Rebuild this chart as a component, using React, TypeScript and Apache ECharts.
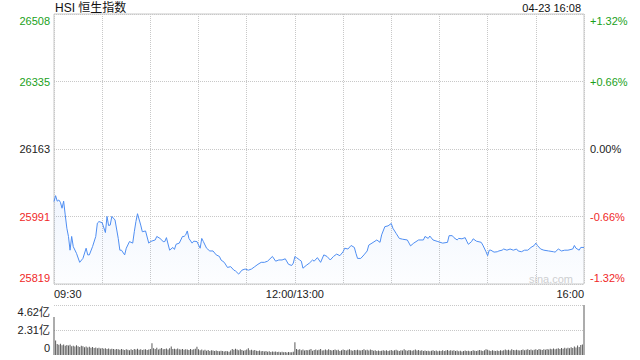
import React, { useEffect, useRef } from 'react';
import * as echarts from 'echarts';

// ---- data ----
const chartTitle = 'HSI 恒生指数';
const stampText = '04-23 16:08';
const watermark = 'sina.com';

// minutes of trading since 09:30 (lunch break removed) and index level
const minutes = [
  0, 1, 2, 3, 4, 5, 6, 7, 8, 9, 10, 11, 12, 14, 16, 18, 20, 21, 22, 24, 26, 27, 28, 30, 32, 33, 34, 35, 36, 38,
  40, 41, 42, 44, 45, 47, 49, 50, 51, 52, 54, 55, 57, 59, 60, 63, 64, 66, 68, 69, 70, 72, 74, 75, 76, 78, 80, 81,
  82, 83, 84, 86, 87, 89, 91, 92, 93, 95, 97, 99, 101, 103, 104, 106, 108, 110, 112, 113, 115, 117, 119, 121, 123,
  125, 127, 129, 131, 133, 136, 138, 140, 142, 144, 146, 148, 149, 150, 151, 153, 154, 155, 157, 159, 161, 162,
  164, 166, 168, 170, 172, 174, 176, 178, 180, 181, 183, 185, 187, 188, 189, 191, 193, 195, 196, 198, 201, 203,
  204, 206, 208, 210, 211, 213, 215, 217, 220, 222, 224, 227, 230, 231, 233, 234, 236, 239, 242,
  245, 246, 248, 249, 251, 252, 254, 256, 257, 258, 260, 261, 263, 266, 267, 269, 270, 271, 272, 274, 276, 277,
  279, 280, 282, 284, 286, 288, 289, 291, 293, 295, 297, 299, 300, 301, 303, 305, 308, 311, 312, 314, 316, 318,
  320, 323, 324, 325, 327, 328, 330,
];
const prices = [
  26029, 26044, 26030, 26033, 26027, 26012, 26030, 25995, 25961, 25940, 25905, 25940, 25914, 25897, 25874, 25884,
  25910, 25893, 25893, 25914, 25940, 25974, 25978, 25975, 25950, 25991, 25968, 25969, 25991, 25982,
  25935, 25905, 25905, 25893, 25910, 25927, 25923, 25952, 25978, 25998, 25969, 25952, 25954, 25923, 25927, 25931,
  25940, 25935, 25927, 25927, 25937, 25905, 25912, 25907, 25920, 25923, 25940, 25940,
  25944, 25954, 25935, 25923, 25928, 25927, 25910, 25935, 25927, 25910, 25903, 25903, 25893, 25889, 25880, 25874,
  25861, 25863, 25854, 25852, 25844, 25854, 25857, 25854, 25857, 25863, 25869, 25874, 25874, 25877, 25889, 25877,
  25880, 25880, 25883, 25869, 25866, 25872, 25889, 25886, 25880, 25877, 25859, 25866, 25872, 25880, 25877,
  25886, 25874, 25893, 25889, 25880, 25889, 25895, 25891, 25901, 25910, 25908, 25917, 25912, 25897, 25884, 25884,
  25893, 25903, 25918, 25923, 25931, 25925, 25944, 25965, 25967, 25973, 25961, 25948, 25935, 25933, 25931, 25916,
  25923, 25931, 25931, 25940, 25935, 25941, 25931, 25927, 25923,
  25925, 25942, 25942, 25937, 25931, 25935, 25934, 25937, 25928, 25920, 25927, 25934, 25928, 25925, 25918, 25901,
  25891, 25905, 25905, 25900, 25901, 25903, 25905, 25908, 25905, 25908, 25905, 25908, 25903, 25901, 25905, 25905,
  25912, 25917, 25923, 25917, 25908, 25905, 25903, 25901, 25900, 25908, 25903, 25905, 25905, 25908, 25917, 25910,
  25905, 25912, 25912,
];

// volume per minute, in 亿
const volumes = [
  3.5, 1.35, 1.02, 0.95, 1.05, 0.9, 0.98, 0.85, 0.92, 0.88,
  0.95, 0.8, 0.86, 0.78, 0.9, 0.82, 0.75, 0.85, 0.8, 0.72,
  0.78, 0.7, 0.76, 0.68, 0.74, 0.65, 0.7, 0.62, 0.68, 0.6,
  0.64, 0.58, 0.62, 0.55, 0.6, 0.52, 0.58, 0.55, 0.5, 0.56,
  0.52, 0.48, 0.55, 0.5, 0.46, 0.53, 0.49, 0.45, 0.52, 0.47,
  0.55, 0.5, 0.58, 0.48, 0.52, 0.46, 0.5, 0.54, 0.47, 0.51,
  0.56, 1.08, 0.62, 0.55, 0.68, 0.5, 0.58, 0.64, 0.52, 0.56,
  0.6, 0.5, 0.62, 0.78, 0.55, 0.58, 0.52, 0.6, 0.54, 0.5,
  0.56, 0.48, 0.53, 0.5, 0.46, 0.55, 0.49, 0.52, 0.58, 0.76,
  0.52, 0.45, 0.5, 0.42, 0.48, 0.4, 0.46, 0.38, 0.44, 0.41,
  0.36, 0.42, 0.38, 0.34, 0.4, 0.36, 0.33, 0.38, 0.35, 0.31,
  0.42, 0.55, 0.48, 0.58, 0.5, 0.45, 0.52, 0.46, 0.4, 0.44,
  0.5, 0.62, 0.45, 0.48, 0.42, 0.46, 0.4, 0.36, 0.41, 0.34,
  0.38, 0.32, 0.36, 0.3, 0.34, 0.28, 0.32, 0.29, 0.33, 0.27,
  0.3, 0.26, 0.29, 0.25, 0.28, 0.24, 0.27, 0.25, 0.26, 0.3,
  1.18, 0.55, 0.48, 0.52, 0.45, 0.5, 0.42, 0.47, 0.44, 0.49,
  0.55, 0.4, 0.46, 0.51, 0.43, 0.48, 0.56, 0.42, 0.45, 0.5,
  0.44, 0.52, 0.47, 0.41, 0.46, 0.5, 0.43, 0.48, 0.38, 0.44,
  0.5, 0.46, 0.42, 0.48, 0.52, 0.45, 0.4, 0.47, 0.43, 0.49,
  0.45, 0.41, 0.47, 0.53, 0.44, 0.48, 0.42, 0.5, 0.46, 0.4,
  0.44, 0.38, 0.42, 0.36, 0.4, 0.45, 0.39, 0.43, 0.37, 0.41,
  0.46, 0.4, 0.44, 0.49, 0.42, 0.38, 0.45, 0.41, 0.52, 0.44,
  0.4, 0.47, 0.43, 0.39, 0.45, 0.5, 0.42, 0.46, 0.4, 0.44,
  0.38, 0.42, 0.36, 0.4, 0.34, 0.39, 0.43, 0.37, 0.41, 0.35,
  0.4, 0.36, 0.44, 0.38, 0.42, 0.47, 0.4, 0.45, 0.39, 0.43,
  0.37, 0.41, 0.35, 0.39, 0.33, 0.37, 0.42, 0.36, 0.4, 0.34,
  0.38, 0.44, 0.4, 0.36, 0.42, 0.46, 0.41, 0.38, 0.43, 0.52,
  0.48, 0.42, 0.38, 0.44, 0.4, 0.36, 0.41, 0.37, 0.43, 0.39,
  0.45, 0.5, 0.44, 0.48, 0.42, 0.52, 0.46, 0.43, 0.49, 0.45,
  0.41, 0.47, 0.5, 0.44, 0.48, 0.53, 0.46, 0.5, 0.44, 0.48,
  0.52, 0.47, 0.55, 0.5, 0.46, 0.53, 0.49, 0.56, 0.51, 0.58,
  0.54, 0.6, 0.52, 0.57, 0.62, 0.55, 0.64, 0.58, 0.66, 0.6,
  0.68, 0.62, 0.72, 0.65, 0.78, 0.7, 0.88, 0.75, 0.92, 0.98,
  4.62,
];

const priceTickLabels = ['25819', '25991', '26163', '26335', '26508'];
const pctTickLabels = ['-1.32%', '-0.66%', '0.00%', '+0.66%', '+1.32%'];
const volTickLabels = ['0', '2.31亿', '4.62亿'];
const timeTickMinutes = [0, 150, 330];
const timeTickLabels = ['09:30', '12:00/13:00', '16:00'];

// axis settings
const priceInterval = 172.125;
const priceMin = 150 * priceInterval;
const priceMax = 154 * priceInterval;
const volInterval = 2.31;
const volMax = 4.62;
const sessionMinutes = 330;

const FONT = '"Liberation Sans", Arial, Helvetica, "Noto Sans CJK SC", sans-serif';
const GREEN = '#1a9f1a';
const RED = '#f02828';
const DARK = '#222';

const styleKeys = ['rb', 'r', 'k', 'g', 'gt'];
const mkRich = (fs: number) => ({
  rb: { color: RED, fontSize: fs, fontFamily: FONT, padding: [0, 0, 12, 0] },
  r: { color: RED, fontSize: fs, fontFamily: FONT },
  k: { color: DARK, fontSize: fs, fontFamily: FONT },
  g: { color: GREEN, fontSize: fs, fontFamily: FONT },
  gt: { color: GREEN, fontSize: fs, fontFamily: FONT, padding: [13, 0, 0, 0] },
});

export default function App() {
  const ref = useRef<HTMLDivElement>(null);
  useEffect(() => {
    document.body.style.margin = '0';
    if (!ref.current) return;
    const chart = echarts.init(ref.current, undefined, { renderer: 'svg' });
    const priceIdx = (v: number) => Math.round((v - priceMin) / priceInterval);
    const dotted = { type: 'dotted' as const, color: '#c8c8c8', width: 1 };
    chart.setOption({
      animation: false,
      textStyle: { fontFamily: FONT },
      grid: [
        { left: 54, width: 530, top: 14, height: 270, show: true, borderColor: '#c8c8c8', borderWidth: 1, containLabel: false },
        { left: 54, width: 530, top: 305, height: 50, show: false, containLabel: false },
      ],
      xAxis: [
        {
          type: 'value', gridIndex: 0, min: 0, max: sessionMinutes, interval: 30,
          axisLine: { show: false }, axisTick: { show: false },
          splitLine: { show: true, lineStyle: dotted },
          axisLabel: {
            show: true, margin: 4, fontSize: 11, color: DARK, fontFamily: FONT,
            alignMinLabel: 'left', alignMaxLabel: 'right',
            formatter: (v: number) => {
              const i = timeTickMinutes.indexOf(Math.round(v));
              return i >= 0 ? timeTickLabels[i] : '';
            },
          },
        },
        {
          type: 'value', gridIndex: 1, min: 0, max: sessionMinutes, interval: 30,
          axisLine: { show: false }, axisTick: { show: false }, splitLine: { show: false },
          axisLabel: { show: false },
        },
      ],
      yAxis: [
        {
          type: 'value', gridIndex: 0, min: priceMin, max: priceMax, interval: priceInterval,
          axisLine: { show: false }, axisTick: { show: false },
          splitLine: { show: true, lineStyle: dotted },
          axisLabel: {
            margin: 4, fontSize: 11, fontFamily: FONT,
            formatter: (v: number) => {
              const i = priceIdx(v);
              return `{${styleKeys[i]}|${priceTickLabels[i]}}`;
            },
            rich: mkRich(11),
          },
        },
        {
          type: 'value', gridIndex: 0, position: 'right', min: priceMin, max: priceMax, interval: priceInterval,
          axisLine: { show: false }, axisTick: { show: false }, splitLine: { show: false },
          axisLabel: {
            margin: 6, fontSize: 11, fontFamily: FONT,
            formatter: (v: number) => {
              const i = priceIdx(v);
              return `{${styleKeys[i]}|${pctTickLabels[i]}}`;
            },
            rich: mkRich(11),
          },
        },
        {
          type: 'value', gridIndex: 1, min: 0, max: volMax, interval: volInterval,
          axisLine: { show: false }, axisTick: { show: false },
          splitLine: { show: true, lineStyle: { type: 'dotted', color: ['rgba(0,0,0,0)', '#c8c8c8', '#c8c8c8'], width: 1 } },
          axisLabel: {
            margin: 4, fontSize: 11, fontFamily: FONT,
            formatter: (v: number) => {
              const i = Math.round(v / volInterval);
              const key = i === 0 ? 'b' : i === 2 ? 't' : 'm';
              return `{${key}|${volTickLabels[i]}}`;
            },
            rich: {
              b: { color: DARK, fontSize: 11, fontFamily: FONT, padding: [0, 0, 14, 0] },
              m: { color: DARK, fontSize: 11, fontFamily: FONT },
              t: { color: DARK, fontSize: 11, fontFamily: FONT, padding: [13, 0, 0, 0] },
            },
          },
        },
      ],
      graphic: [
        {
          type: 'text', x: 55, y: 8,
          style: { text: chartTitle, fontSize: 12, fontFamily: FONT, fill: '#111', textVerticalAlign: 'middle', verticalAlign: 'middle' },
        },
        {
          type: 'text', x: 581, y: 8,
          style: { text: stampText, fontSize: 11, fontFamily: FONT, fill: '#111', align: 'right', textAlign: 'right', verticalAlign: 'middle', textVerticalAlign: 'middle' },
        },
        {
          type: 'text', x: 573, y: 279,
          style: { text: watermark, fontSize: 11, fontFamily: FONT, fill: '#d0d0d0', align: 'right', textAlign: 'right', verticalAlign: 'middle', textVerticalAlign: 'middle' },
        },
      ],
      series: [
        {
          type: 'line', xAxisIndex: 0, yAxisIndex: 0,
          data: minutes.map((m, i) => [m, prices[i]]),
          showSymbol: false, symbol: 'none',
          lineStyle: { color: '#4f8ef2', width: 1 },
          areaStyle: {
            origin: 'start',
            color: new echarts.graphic.LinearGradient(0, 0, 0, 1, [
              { offset: 0, color: 'rgba(79,142,242,0.12)' },
              { offset: 1, color: 'rgba(79,142,242,0.02)' },
            ]),
          },
          z: 3,
        },
        {
          type: 'bar', xAxisIndex: 1, yAxisIndex: 2,
          data: volumes.map((v, i) => [i, v]),
          barWidth: 1, clip: false,
          itemStyle: { color: '#5a5a5a' },
        },
      ],
    });
    return () => chart.dispose();
  }, []);
  return <div ref={ref} style={{ width: 640, height: 360 }} />;
}
